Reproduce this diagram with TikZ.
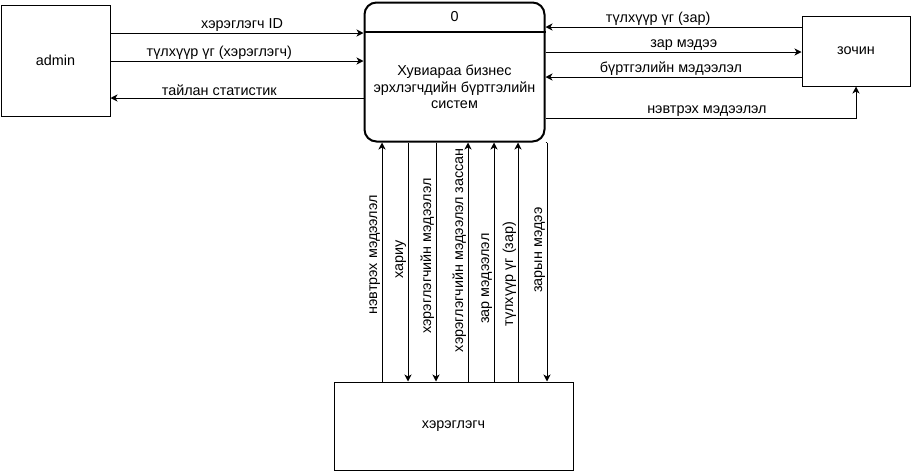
\documentclass[tikz,border=0pt]{standalone}
\usepackage{fontspec}
\setmainfont{Liberation Sans}
\usetikzlibrary{arrows.meta}
\begin{document}
\begin{tikzpicture}[x=1pt,y=-1pt,font=\fontsize{14.4}{16.5}\selectfont]
	\tikzset{bx/.style={draw,line width=1pt,inner sep=0pt},
	fl/.style={line width=1pt,-{Stealth[length=7pt,width=7pt,inset=2pt]}},
	vl/.style={rotate=90,anchor=south,inner sep=1.5pt}}
	\useasboundingbox(0,0)rectangle(913,472);
	\node[bx,minimum width=109pt,minimum height=111pt](admin)at(55.5,60.5){admin};
	\node[draw,line width=2pt,rounded corners=12pt,minimum width=180pt,minimum height=139pt](proc)at(454.5,72){};
	\draw[line width=2pt](proc.west|-0,32)--(proc.east|-0,32);
	\node(num)at(454.5,17){0};
	\node[align=center](name)at(454.5,87){Хувиараа бизнес\\эрхлэгчдийн бүртгэлийн\\систем};
	\node[bx,minimum width=108pt,minimum height=70pt](zochin)at(856,51){зочин};
	\node[bx,minimum width=239pt,minimum height=88pt](user)at(453.5,426){хэрэглэгч};
	\foreach \y/\p/\t in {33/0.52/хэрэглэгч ID,61/0.43/{түлхүүр үг (хэрэглэгч)}}
	\draw[fl](admin.east|-0,\y)--node[pos=\p,above,inner sep=1.5pt]{\t}(proc.west|-0,\y);
	\draw[fl](proc.west|-0,98)--node[pos=0.57,above,inner sep=1.5pt]{тайлан статистик}(admin.east|-0,98);
	\foreach \y/\p/\t in {27/0.56/{түлхүүр үг (зар)},77/0.51/бүртгэлийн мэдээлэл}
	\draw[fl](zochin.west|-0,\y)--node[pos=\p,above,inner sep=1.5pt]{\t}(proc.east|-0,\y);
	\draw[fl](proc.east|-0,52)--node[pos=0.54,above,inner sep=1.5pt]{зар мэдээ}(zochin.west|-0,52);
	\draw[fl](proc.east|-0,118)-|node[pos=0.26,above,inner sep=1.5pt]{нэвтрэх мэдээлэл}(zochin.south);
	\foreach \x/\p/\t in {382/0.53/нэвтрэх мэдээлэл,468/0.55/хэрэглэгчийн мэдээлэл зассан,494/0.43/зар мэдээлэл,518/0.45/{түлхүүр үг (зар)}}
	\draw[fl](user.north-|\x,0)--node[pos=\p,vl]{\t}(proc.south-|\x,0);
	\foreach \x/\p/\t in {408/0.49/хариу,436/0.475/хэрэглэгчийн мэдээлэл}
	\draw[fl](proc.south-|\x,0)--node[pos=\p,vl]{\t}(user.north-|\x,0);
	\draw[line width=1pt](proc.south east)--++(1.5,0)coordinate(k);
	\draw[fl](k)--node[pos=0.45,vl]{зарын мэдээ}(k|-user.north);
\end{tikzpicture}
\end{document}
